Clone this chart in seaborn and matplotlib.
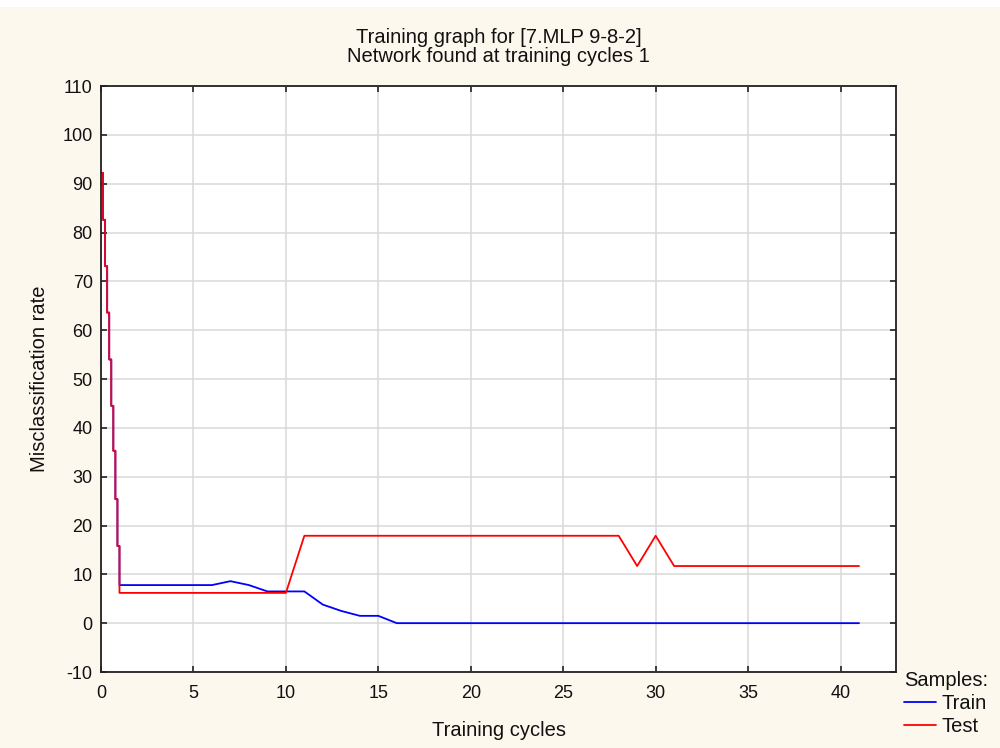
import numpy as np
import pandas as pd
import seaborn as sns
import matplotlib.pyplot as plt
from matplotlib.patches import Rectangle

# first training cycle is logged in sub-steps (drops at k/9)
sub_x = [0, 1/9, 2/9, 3/9, 4/9, 5/9, 6/9, 7/9, 8/9, 1.0]
train_sub = [92.2, 82.6, 73.1, 63.6, 54.0, 44.5, 35.3, 25.4, 15.8, 7.8]
test_sub = [92.2, 82.6, 73.1, 63.6, 54.0, 44.5, 35.3, 25.4, 15.8, 6.2]

# whole cycles 2..41
cycles = list(range(2, 42))
train_vals = [7.8, 7.8, 7.8, 7.8, 7.8, 8.6, 7.8, 6.5, 6.5, 6.5,
              3.8, 2.5, 1.5, 1.5, 0, 0, 0, 0, 0, 0,
              0, 0, 0, 0, 0, 0, 0, 0, 0, 0,
              0, 0, 0, 0, 0, 0, 0, 0, 0, 0]
test_vals = [6.2, 6.2, 6.2, 6.2, 6.2, 6.2, 6.2, 6.2, 6.2, 17.9,
             17.9, 17.9, 17.9, 17.9, 17.9, 17.9, 17.9, 17.9, 17.9, 17.9,
             17.9, 17.9, 17.9, 17.9, 17.9, 17.9, 17.9, 11.7, 17.9, 11.7,
             11.7, 11.7, 11.7, 11.7, 11.7, 11.7, 11.7, 11.7, 11.7, 11.7]

x_ticks = [0, 5, 10, 15, 20, 25, 30, 35, 40]
y_ticks = list(range(-10, 111, 10))


def series(name, sub_vals, vals):
    # staircase for the sub-steps, then plain line
    xs = [sub_x[0]]
    ys = [sub_vals[0]]
    for i in range(1, len(sub_x)):
        xs += [sub_x[i], sub_x[i]]
        ys += [sub_vals[i - 1], sub_vals[i]]
    xs += cycles
    ys += vals
    return pd.DataFrame({'x': xs, 'y': ys, 'Samples': name})


data = pd.concat([series('Train', train_sub, train_vals),
                  series('Test', test_sub, test_vals)], ignore_index=True)

sns.set_style("ticks")
plt.rcParams['font.family'] = ['Liberation Sans', 'DejaVu Sans']
plt.rcParams['axes.unicode_minus'] = False

bg = '#FDF8EE'
txt = '#111111'
fig = plt.figure(figsize=(10, 7.48), dpi=100, facecolor=bg)
fig.patches.append(Rectangle((0, 0.99), 1, 0.01, transform=fig.transFigure,
                             facecolor='white', edgecolor='none', zorder=-1))
ax = fig.add_axes([0.101, 0.1016, 0.795, 0.7834])
ax.set_facecolor('white')

sns.lineplot(data=data, x='x', y='y', hue='Samples', sort=False, estimator=None,
             palette={'Train': '#0000FF', 'Test': '#FF0000'}, linewidth=1.3,
             ax=ax, legend=True)

ax.set_xlim(0, 43)
ax.set_ylim(-10, 110)
ax.set_xticks(x_ticks)
ax.set_yticks(y_ticks)
ax.grid(True, color='#D8D8D8', linewidth=1.1)
ax.set_axisbelow(True)
ax.tick_params(direction='in', length=4, width=1.1, top=True, right=True,
               labelsize=13, colors=txt)
ax.tick_params(axis='x', pad=9)
ax.tick_params(axis='y', pad=6)
for s in ax.spines.values():
    s.set_color('#222222')
    s.set_linewidth(1.3)

ax.set_xlabel('Training cycles', fontsize=14.5, color=txt, labelpad=14)
ax.set_ylabel('Misclassification rate', fontsize=14.5, color=txt, labelpad=10)
ax.set_title('Training graph for [7.MLP 9-8-2]\nNetwork found at training cycles 1',
             fontsize=14.5, color=txt, pad=17, linespacing=1.0)

handles, labels = ax.get_legend_handles_labels()
ax.get_legend().remove()
leg = fig.legend(handles, labels, title='Samples:', loc='upper left',
                 bbox_to_anchor=(0.904, 0.103), frameon=False, fontsize=14.5,
                 title_fontsize=14.5, handlelength=1.6, handletextpad=0.25,
                 borderpad=0, labelspacing=0.2, borderaxespad=0)
leg._legend_box.align = 'left'
for t in leg.get_texts():
    t.set_color(txt)
leg.get_title().set_color(txt)

fig.savefig('out.png', dpi=100, facecolor=bg)
